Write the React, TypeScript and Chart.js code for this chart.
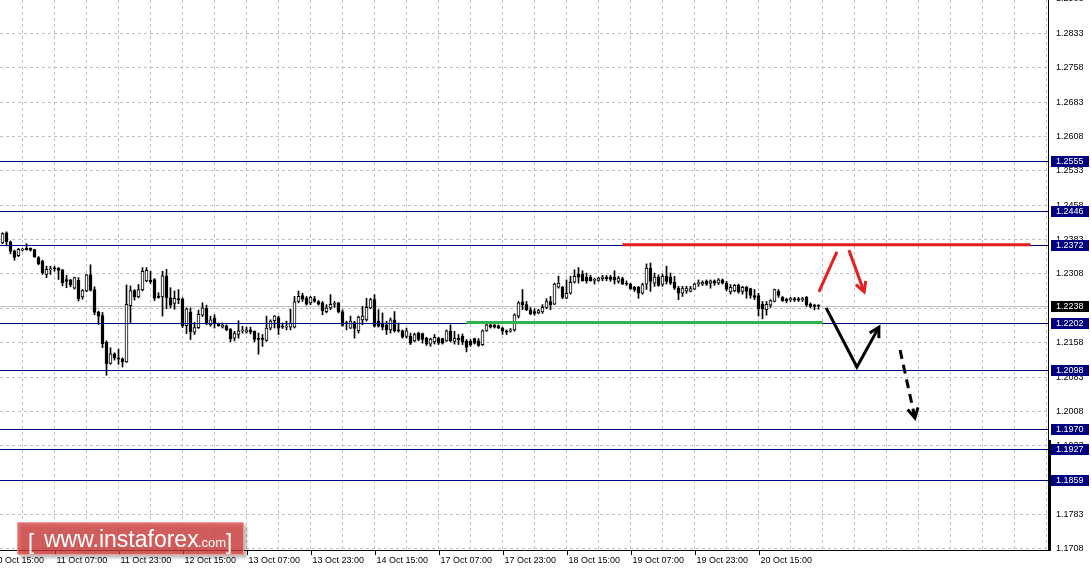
import React, { useEffect, useRef } from "react";
import { Chart, registerables } from "chart.js";

Chart.register(...registerables);

// ---------- DATA (hourly candles, EURUSD-like) ----------
const OPEN = [
  1.2376, 1.2398, 1.2378, 1.2358, 1.2348, 1.2360, 1.2364, 1.2364, 1.2361, 1.2344,
  1.2336, 1.2307, 1.2317, 1.2320, 1.2321, 1.2317, 1.2296, 1.2295, 1.2277, 1.2294,
  1.2258, 1.2271, 1.2306, 1.2274, 1.2225, 1.2217, 1.2159, 1.2113, 1.2134, 1.2125,
  1.2123, 1.2116, 1.2239, 1.2272, 1.2258, 1.2273, 1.2293, 1.2294, 1.2296, 1.2258,
  1.2258, 1.2304, 1.2256, 1.2244, 1.2254, 1.2253, 1.2195, 1.2225, 1.2181, 1.2191,
  1.2218, 1.2233, 1.2197, 1.2212, 1.2199, 1.2192, 1.2195, 1.2188, 1.2168, 1.2176,
  1.2184, 1.2181, 1.2186, 1.2183, 1.2168, 1.2168, 1.2163, 1.2190, 1.2206, 1.2213,
  1.2194, 1.2192, 1.2192, 1.2192, 1.2248, 1.2261, 1.2255, 1.2245, 1.2254, 1.2248,
  1.2245, 1.2226, 1.2234, 1.2242, 1.2245, 1.2226, 1.2200, 1.2190, 1.2202, 1.2184,
  1.2208, 1.2208, 1.2234, 1.2252, 1.2205, 1.2201, 1.2197, 1.2186, 1.2208, 1.2186,
  1.2184, 1.2172, 1.2172, 1.2162, 1.2179, 1.2178, 1.2168, 1.2155, 1.2160, 1.2168,
  1.2167, 1.2162, 1.2183, 1.2161, 1.2168, 1.2172, 1.2161, 1.2161, 1.2167, 1.2162,
  1.2154, 1.2184, 1.2197, 1.2196, 1.2195, 1.2190, 1.2184, 1.2183, 1.2186, 1.2216,
  1.2247, 1.2241, 1.2230, 1.2226, 1.2223, 1.2225, 1.2235, 1.2248, 1.2242, 1.2279,
  1.2279, 1.2255, 1.2266, 1.2290, 1.2308, 1.2308, 1.2301, 1.2301, 1.2294, 1.2294,
  1.2297, 1.2301, 1.2301, 1.2301, 1.2292, 1.2298, 1.2288, 1.2286, 1.2279, 1.2279,
  1.2266, 1.2286, 1.2321, 1.2288, 1.2301, 1.2285, 1.2303, 1.2301, 1.2290, 1.2277,
  1.2266, 1.2271, 1.2270, 1.2275, 1.2287, 1.2286, 1.2292, 1.2288, 1.2293, 1.2288,
  1.2295, 1.2288, 1.2269, 1.2271, 1.2283, 1.2270, 1.2279, 1.2276, 1.2261, 1.2261,
  1.2242, 1.2230, 1.2240, 1.2248, 1.2270, 1.2257, 1.2253, 1.2252, 1.2253, 1.2254,
  1.2252, 1.2257, 1.2242, 1.2240, 1.2239,
];
const HIGH = [
  1.2398, 1.2400, 1.2380, 1.2360, 1.2364, 1.2364, 1.2374, 1.2365, 1.2362, 1.2346,
  1.2338, 1.2325, 1.2325, 1.2325, 1.2322, 1.2318, 1.2305, 1.2296, 1.2301, 1.2300,
  1.2274, 1.2307, 1.2328, 1.2280, 1.2227, 1.2224, 1.2162, 1.2147, 1.2136, 1.2144,
  1.2125, 1.2284, 1.2282, 1.2274, 1.2285, 1.2322, 1.2322, 1.2314, 1.2298, 1.2267,
  1.2314, 1.2318, 1.2278, 1.2271, 1.2274, 1.2256, 1.2234, 1.2234, 1.2202, 1.2229,
  1.2245, 1.2240, 1.2216, 1.2219, 1.2201, 1.2201, 1.2197, 1.2189, 1.2183, 1.2206,
  1.2194, 1.2192, 1.2192, 1.2184, 1.2179, 1.2176, 1.2216, 1.2208, 1.2217, 1.2216,
  1.2201, 1.2205, 1.2231, 1.2259, 1.2271, 1.2266, 1.2259, 1.2259, 1.2259, 1.2250,
  1.2248, 1.2241, 1.2263, 1.2248, 1.2246, 1.2230, 1.2205, 1.2216, 1.2205, 1.2216,
  1.2237, 1.2255, 1.2255, 1.2263, 1.2230, 1.2223, 1.2205, 1.2212, 1.2226, 1.2201,
  1.2186, 1.2190, 1.2179, 1.2179, 1.2181, 1.2179, 1.2170, 1.2168, 1.2176, 1.2170,
  1.2168, 1.2186, 1.2197, 1.2183, 1.2176, 1.2177, 1.2165, 1.2165, 1.2168, 1.2167,
  1.2186, 1.2199, 1.2199, 1.2199, 1.2197, 1.2192, 1.2186, 1.2189, 1.2221, 1.2248,
  1.2274, 1.2248, 1.2235, 1.2232, 1.2231, 1.2241, 1.2254, 1.2259, 1.2288, 1.2303,
  1.2281, 1.2295, 1.2303, 1.2317, 1.2322, 1.2315, 1.2310, 1.2305, 1.2299, 1.2301,
  1.2305, 1.2305, 1.2305, 1.2315, 1.2303, 1.2301, 1.2293, 1.2288, 1.2281, 1.2281,
  1.2288, 1.2330, 1.2332, 1.2310, 1.2306, 1.2308, 1.2325, 1.2310, 1.2303, 1.2281,
  1.2281, 1.2281, 1.2281, 1.2288, 1.2295, 1.2293, 1.2295, 1.2295, 1.2295, 1.2298,
  1.2297, 1.2292, 1.2285, 1.2285, 1.2286, 1.2281, 1.2281, 1.2277, 1.2274, 1.2266,
  1.2248, 1.2248, 1.2252, 1.2275, 1.2274, 1.2259, 1.2255, 1.2257, 1.2257, 1.2257,
  1.2257, 1.2259, 1.2245, 1.2242, 1.2241,
];
const LOW = [
  1.2374, 1.2369, 1.2352, 1.2338, 1.2346, 1.2358, 1.2360, 1.2358, 1.2344, 1.2328,
  1.2307, 1.2300, 1.2307, 1.2314, 1.2296, 1.2282, 1.2278, 1.2280, 1.2275, 1.2249,
  1.2253, 1.2269, 1.2271, 1.2219, 1.2198, 1.2147, 1.2087, 1.2111, 1.2120, 1.2111,
  1.2105, 1.2115, 1.2202, 1.2251, 1.2256, 1.2271, 1.2291, 1.2287, 1.2250, 1.2255,
  1.2216, 1.2232, 1.2234, 1.2231, 1.2243, 1.2191, 1.2178, 1.2165, 1.2176, 1.2189,
  1.2215, 1.2197, 1.2194, 1.2190, 1.2194, 1.2190, 1.2184, 1.2160, 1.2162, 1.2168,
  1.2179, 1.2179, 1.2177, 1.2160, 1.2133, 1.2150, 1.2161, 1.2186, 1.2190, 1.2176,
  1.2189, 1.2186, 1.2186, 1.2190, 1.2245, 1.2248, 1.2240, 1.2241, 1.2246, 1.2240,
  1.2219, 1.2223, 1.2230, 1.2235, 1.2223, 1.2194, 1.2186, 1.2189, 1.2168, 1.2179,
  1.2197, 1.2205, 1.2232, 1.2192, 1.2192, 1.2186, 1.2176, 1.2179, 1.2181, 1.2181,
  1.2168, 1.2168, 1.2154, 1.2160, 1.2162, 1.2157, 1.2152, 1.2150, 1.2155, 1.2154,
  1.2155, 1.2161, 1.2160, 1.2155, 1.2154, 1.2154, 1.2138, 1.2150, 1.2155, 1.2150,
  1.2152, 1.2183, 1.2190, 1.2190, 1.2189, 1.2176, 1.2176, 1.2181, 1.2183, 1.2212,
  1.2230, 1.2228, 1.2219, 1.2218, 1.2221, 1.2222, 1.2232, 1.2230, 1.2241, 1.2277,
  1.2254, 1.2254, 1.2264, 1.2288, 1.2288, 1.2292, 1.2288, 1.2292, 1.2286, 1.2292,
  1.2293, 1.2293, 1.2292, 1.2286, 1.2288, 1.2285, 1.2283, 1.2274, 1.2270, 1.2255,
  1.2264, 1.2274, 1.2270, 1.2281, 1.2281, 1.2281, 1.2286, 1.2285, 1.2274, 1.2252,
  1.2259, 1.2266, 1.2269, 1.2274, 1.2281, 1.2283, 1.2283, 1.2277, 1.2283, 1.2285,
  1.2286, 1.2271, 1.2264, 1.2269, 1.2266, 1.2264, 1.2255, 1.2255, 1.2252, 1.2216,
  1.2210, 1.2218, 1.2235, 1.2247, 1.2257, 1.2248, 1.2245, 1.2248, 1.2248, 1.2248,
  1.2248, 1.2237, 1.2234, 1.2230, 1.2231,
];
const CLOSE = [
  1.2396, 1.2378, 1.2357, 1.2344, 1.2362, 1.2361, 1.2361, 1.2360, 1.2345, 1.2330,
  1.2311, 1.2318, 1.2319, 1.2319, 1.2316, 1.2289, 1.2292, 1.2284, 1.2300, 1.2254,
  1.2272, 1.2306, 1.2272, 1.2224, 1.2216, 1.2156, 1.2112, 1.2134, 1.2125, 1.2122,
  1.2116, 1.2242, 1.2272, 1.2258, 1.2274, 1.2314, 1.2316, 1.2291, 1.2255, 1.2257,
  1.2304, 1.2256, 1.2240, 1.2255, 1.2252, 1.2195, 1.2232, 1.2182, 1.2191, 1.2220,
  1.2234, 1.2200, 1.2208, 1.2201, 1.2195, 1.2197, 1.2186, 1.2167, 1.2178, 1.2184,
  1.2185, 1.2186, 1.2181, 1.2165, 1.2165, 1.2165, 1.2190, 1.2205, 1.2216, 1.2190,
  1.2192, 1.2193, 1.2201, 1.2247, 1.2259, 1.2253, 1.2242, 1.2257, 1.2248, 1.2242,
  1.2228, 1.2234, 1.2242, 1.2244, 1.2225, 1.2196, 1.2201, 1.2205, 1.2189, 1.2214,
  1.2216, 1.2235, 1.2252, 1.2194, 1.2194, 1.2192, 1.2186, 1.2208, 1.2184, 1.2184,
  1.2170, 1.2184, 1.2157, 1.2176, 1.2165, 1.2165, 1.2155, 1.2166, 1.2170, 1.2157,
  1.2157, 1.2184, 1.2162, 1.2168, 1.2164, 1.2159, 1.2148, 1.2154, 1.2157, 1.2152,
  1.2184, 1.2197, 1.2192, 1.2192, 1.2190, 1.2183, 1.2181, 1.2186, 1.2219, 1.2245,
  1.2241, 1.2230, 1.2221, 1.2222, 1.2228, 1.2235, 1.2248, 1.2241, 1.2286, 1.2288,
  1.2257, 1.2266, 1.2290, 1.2303, 1.2301, 1.2293, 1.2293, 1.2293, 1.2295, 1.2299,
  1.2302, 1.2297, 1.2296, 1.2295, 1.2299, 1.2286, 1.2286, 1.2276, 1.2274, 1.2266,
  1.2285, 1.2321, 1.2292, 1.2301, 1.2283, 1.2303, 1.2292, 1.2288, 1.2277, 1.2266,
  1.2276, 1.2277, 1.2276, 1.2286, 1.2289, 1.2290, 1.2286, 1.2293, 1.2288, 1.2295,
  1.2288, 1.2275, 1.2279, 1.2283, 1.2269, 1.2279, 1.2270, 1.2261, 1.2257, 1.2232,
  1.2232, 1.2242, 1.2250, 1.2274, 1.2261, 1.2250, 1.2250, 1.2253, 1.2252, 1.2251,
  1.2253, 1.2241, 1.2237, 1.2237, 1.2238,
];

const TIME_LABELS = [
  "10 Oct 15:00", "11 Oct 07:00", "11 Oct 23:00", "12 Oct 15:00", "13 Oct 07:00",
  "13 Oct 23:00", "14 Oct 15:00", "17 Oct 07:00", "17 Oct 23:00", "18 Oct 15:00",
  "19 Oct 07:00", "19 Oct 23:00", "20 Oct 15:00",
];
const TIME_LABEL_FIRST_BAR = -3;
const TIME_LABEL_STEP = 16;

const PRICE_TICKS = [
  1.1708, 1.1783, 1.1858, 1.1933, 1.2008, 1.2083, 1.2158, 1.2233, 1.2308,
  1.2383, 1.2458, 1.2533, 1.2608, 1.2683, 1.2758, 1.2833, 1.2908,
];
const LEVELS = [1.2555, 1.2446, 1.2372, 1.2202, 1.2098, 1.197, 1.1927, 1.1859];
const CURRENT_PRICE = 1.2238;

// analyst drawings, in [bar index, price]
const RESISTANCE_LINE = [[155, 1.2372], [257, 1.2372]];
const SUPPORT_LINE = [[116, 1.2202], [205, 1.2202]];
const RED_UP = [[204.1, 1.2269], [208.6, 1.2356]];
const RED_ARROW = [[211.6, 1.236], [215.4, 1.2269]];
const BLACK_PATH = [[205.9, 1.2234], [213.6, 1.2105], [219.1, 1.2192]];
const BLACK_DASHED = [[224.4, 1.2142], [228.1, 1.1994]];

// ---------- view ----------
const X_MIN = -0.625;
const X_MAX = 261.375;
const Y_MAX = 1.29058;
const Y_MIN = 1.17057;

const FONT = '9px "Liberation Sans", Arial, sans-serif';
const NAVY = "#000080";

type Pt = number[];

const drawPlugin = {
  id: "mtDecor",
  beforeDatasetsDraw(chart: any) {
    const { ctx, chartArea, scales } = chart;
    const y = Math.round(scales.y.getPixelForValue(CURRENT_PRICE)) + 0.5;
    ctx.save();
    ctx.strokeStyle = "#c0c0c0";
    ctx.lineWidth = 1;
    ctx.beginPath();
    ctx.moveTo(chartArea.left, y);
    ctx.lineTo(chartArea.right, y);
    ctx.stroke();
    ctx.restore();
  },
  afterDatasetsDraw(chart: any) {
    const { ctx, chartArea, scales } = chart;
    const X = (v: number) => scales.x.getPixelForValue(v);
    const Y = (v: number) => scales.y.getPixelForValue(v);
    ctx.save();
    ctx.beginPath();
    ctx.rect(chartArea.left, chartArea.top, chartArea.right - chartArea.left, chartArea.bottom - chartArea.top);
    ctx.clip();
    // horizontal levels
    LEVELS.forEach((lv) => {
      const y = Math.round(Y(lv)) + 0.5;
      ctx.strokeStyle = NAVY;
      ctx.lineWidth = 1;
      ctx.beginPath();
      ctx.moveTo(chartArea.left, y);
      ctx.lineTo(chartArea.right, y);
      ctx.stroke();
    });
    const path = (pts: Pt[], color: string, w: number, dash: number[] = []) => {
      ctx.strokeStyle = color;
      ctx.lineWidth = w;
      ctx.setLineDash(dash);
      ctx.lineCap = "butt";
      ctx.lineJoin = "miter";
      ctx.beginPath();
      pts.forEach((p, i) => {
        const px = X(p[0]);
        const py = Y(p[1]);
        if (i === 0) ctx.moveTo(px, py);
        else ctx.lineTo(px, py);
      });
      ctx.stroke();
      ctx.setLineDash([]);
    };
    const head = (pts: Pt[], color: string, size: number) => {
      const a = pts[pts.length - 2];
      const b = pts[pts.length - 1];
      const ax = X(a[0]), ay = Y(a[1]), bx = X(b[0]), by = Y(b[1]);
      const ang = Math.atan2(by - ay, bx - ax);
      ctx.strokeStyle = color;
      ctx.lineWidth = 3;
      ctx.setLineDash([]);
      ctx.beginPath();
      ctx.moveTo(bx - size * Math.cos(ang - 0.5), by - size * Math.sin(ang - 0.5));
      ctx.lineTo(bx, by);
      ctx.lineTo(bx - size * Math.cos(ang + 0.5), by - size * Math.sin(ang + 0.5));
      ctx.stroke();
    };
    path(SUPPORT_LINE, "#2fb34f", 3);
    path(RESISTANCE_LINE, "#e61e1e", 3);
    path(RED_UP, "#e61e1e", 3);
    path(RED_ARROW, "#e61e1e", 3);
    head(RED_ARROW, "#e61e1e", 11);
    path(BLACK_PATH, "#000000", 3);
    head(BLACK_PATH, "#000000", 11);
    path(BLACK_DASHED, "#000000", 3, [9, 6]);
    head(BLACK_DASHED, "#000000", 11);
    ctx.restore();
  },
  afterDraw(chart: any) {
    const { ctx, chartArea, scales } = chart;
    const X = (v: number) => scales.x.getPixelForValue(v);
    const Y = (v: number) => scales.y.getPixelForValue(v);
    ctx.save();
    // axes
    ctx.strokeStyle = "#000";
    ctx.lineWidth = 1;
    ctx.beginPath();
    ctx.moveTo(chartArea.right + 0.5, 0);
    ctx.lineTo(chartArea.right + 0.5, chartArea.bottom + 1);
    ctx.moveTo(0, chartArea.bottom + 0.5);
    ctx.lineTo(chartArea.right + 1, chartArea.bottom + 0.5);
    ctx.stroke();
    ctx.fillStyle = "#000";
    ctx.fillRect(chartArea.right, 440, 3, chartArea.bottom - 440 + 1);

    // y labels
    ctx.font = FONT;
    ctx.textAlign = "left";
    ctx.textBaseline = "middle";
    ctx.fillStyle = "#000";
    PRICE_TICKS.forEach((v) => {
      ctx.fillText(v.toFixed(4), chartArea.right + 8, Y(v));
    });
    // level boxes
    const box = (v: number, bg: string) => {
      const y = Math.round(Y(v));
      ctx.fillStyle = bg;
      ctx.fillRect(chartArea.right + 3, y - 5, 38, 11);
      ctx.fillStyle = "#fff";
      ctx.fillText(v.toFixed(4), chartArea.right + 8, y + 0.5);
    };
    LEVELS.forEach((lv) => box(lv, NAVY));
    box(CURRENT_PRICE, "#000");

    // x labels
    ctx.fillStyle = "#000";
    ctx.strokeStyle = "#000";
    TIME_LABELS.forEach((t, k) => {
      const x = Math.round(X(TIME_LABEL_FIRST_BAR + k * TIME_LABEL_STEP)) + 0.5;
      ctx.beginPath();
      ctx.moveTo(x, chartArea.bottom);
      ctx.lineTo(x, chartArea.bottom + 5);
      ctx.stroke();
      ctx.fillText(t, x + 1, chartArea.bottom + 11);
    });

    // watermark
    ctx.save();
    ctx.shadowColor = "rgba(0,0,0,0.35)";
    ctx.shadowOffsetX = 3;
    ctx.shadowOffsetY = 3;
    ctx.shadowBlur = 3;
    ctx.fillStyle = "rgba(214,58,58,0.74)";
    ctx.beginPath();
    ctx.roundRect(17, 522, 227, 33, 2);
    ctx.fill();
    ctx.restore();
    ctx.strokeStyle = "rgba(245,160,160,0.9)";
    ctx.lineWidth = 1;
    ctx.beginPath();
    ctx.roundRect(17.5, 522.5, 226, 32, 2);
    ctx.stroke();
    ctx.fillStyle = "#fff";
    ctx.textBaseline = "alphabetic";
    ctx.font = '22px "Liberation Sans", Arial, sans-serif';
    ctx.fillText("[", 28, 549);
    ctx.font = '23px "Liberation Sans", Arial, sans-serif';
    ctx.fillText("www.instaforex", 44, 547);
    ctx.font = '13px "Liberation Sans", Arial, sans-serif';
    ctx.fillText(".com", 198, 547);
    ctx.font = '22px "Liberation Sans", Arial, sans-serif';
    ctx.fillText("]", 226, 549);
    ctx.restore();
  },
};

export default function App() {
  const ref = useRef<HTMLCanvasElement>(null);
  useEffect(() => {
    const canvas = ref.current;
    if (!canvas) return;
    const wicks = OPEN.map((_, i) => ({ x: i, y: [LOW[i], HIGH[i]] }));
    const bodies = OPEN.map((o, i) => ({ x: i, y: [Math.min(o, CLOSE[i]), Math.max(o, CLOSE[i])] }));
    const bodyColors = OPEN.map((o, i) => (CLOSE[i] >= o ? "#ffffff" : "#000000"));
    const gridTicksX: { value: number }[] = [];
    for (let v = 5; v <= X_MAX; v += 8) gridTicksX.push({ value: v });

    const chart = new Chart(canvas, {
      type: "bar",
      data: {
        datasets: [
          {
            label: "wick",
            data: wicks as any,
            backgroundColor: "#000",
            borderWidth: 0,
            barThickness: 1,
            grouped: false,
            order: 2,
          } as any,
          {
            label: "body",
            data: bodies as any,
            backgroundColor: bodyColors,
            borderColor: "#000",
            borderWidth: 1,
            borderSkipped: false,
            barThickness: 3,
            minBarLength: 1,
            grouped: false,
            order: 1,
          } as any,
        ],
      },
      options: {
        animation: false,
        responsive: false,
        devicePixelRatio: 1,
        events: [],
        layout: { padding: { left: 0, top: 0, right: 43, bottom: 23 } },
        plugins: { legend: { display: false }, tooltip: { enabled: false } },
        scales: {
          x: {
            type: "linear",
            min: X_MIN,
            max: X_MAX,
            offset: false,
            grid: { color: "#c0c0c0", drawTicks: false, offset: false, lineWidth: 1 },
            border: { display: false, dash: [3, 3] },
            ticks: { display: false },
            afterBuildTicks: (s: any) => {
              s.ticks = gridTicksX;
            },
          },
          y: {
            type: "linear",
            position: "right",
            min: Y_MIN,
            max: Y_MAX,
            grid: { color: "#c0c0c0", drawTicks: false, lineWidth: 1 },
            border: { display: false, dash: [3, 3] },
            ticks: { display: false },
            afterBuildTicks: (s: any) => {
              s.ticks = PRICE_TICKS.map((v) => ({ value: v }));
            },
          },
        } as any,
      },
      plugins: [drawPlugin],
    } as any);
    return () => chart.destroy();
  }, []);
  return (
    <div style={{ position: "fixed", left: 0, top: 0, width: 1091, height: 573, background: "#fff" }}>
      <canvas ref={ref} width={1091} height={573} style={{ display: "block" }} />
    </div>
  );
}
